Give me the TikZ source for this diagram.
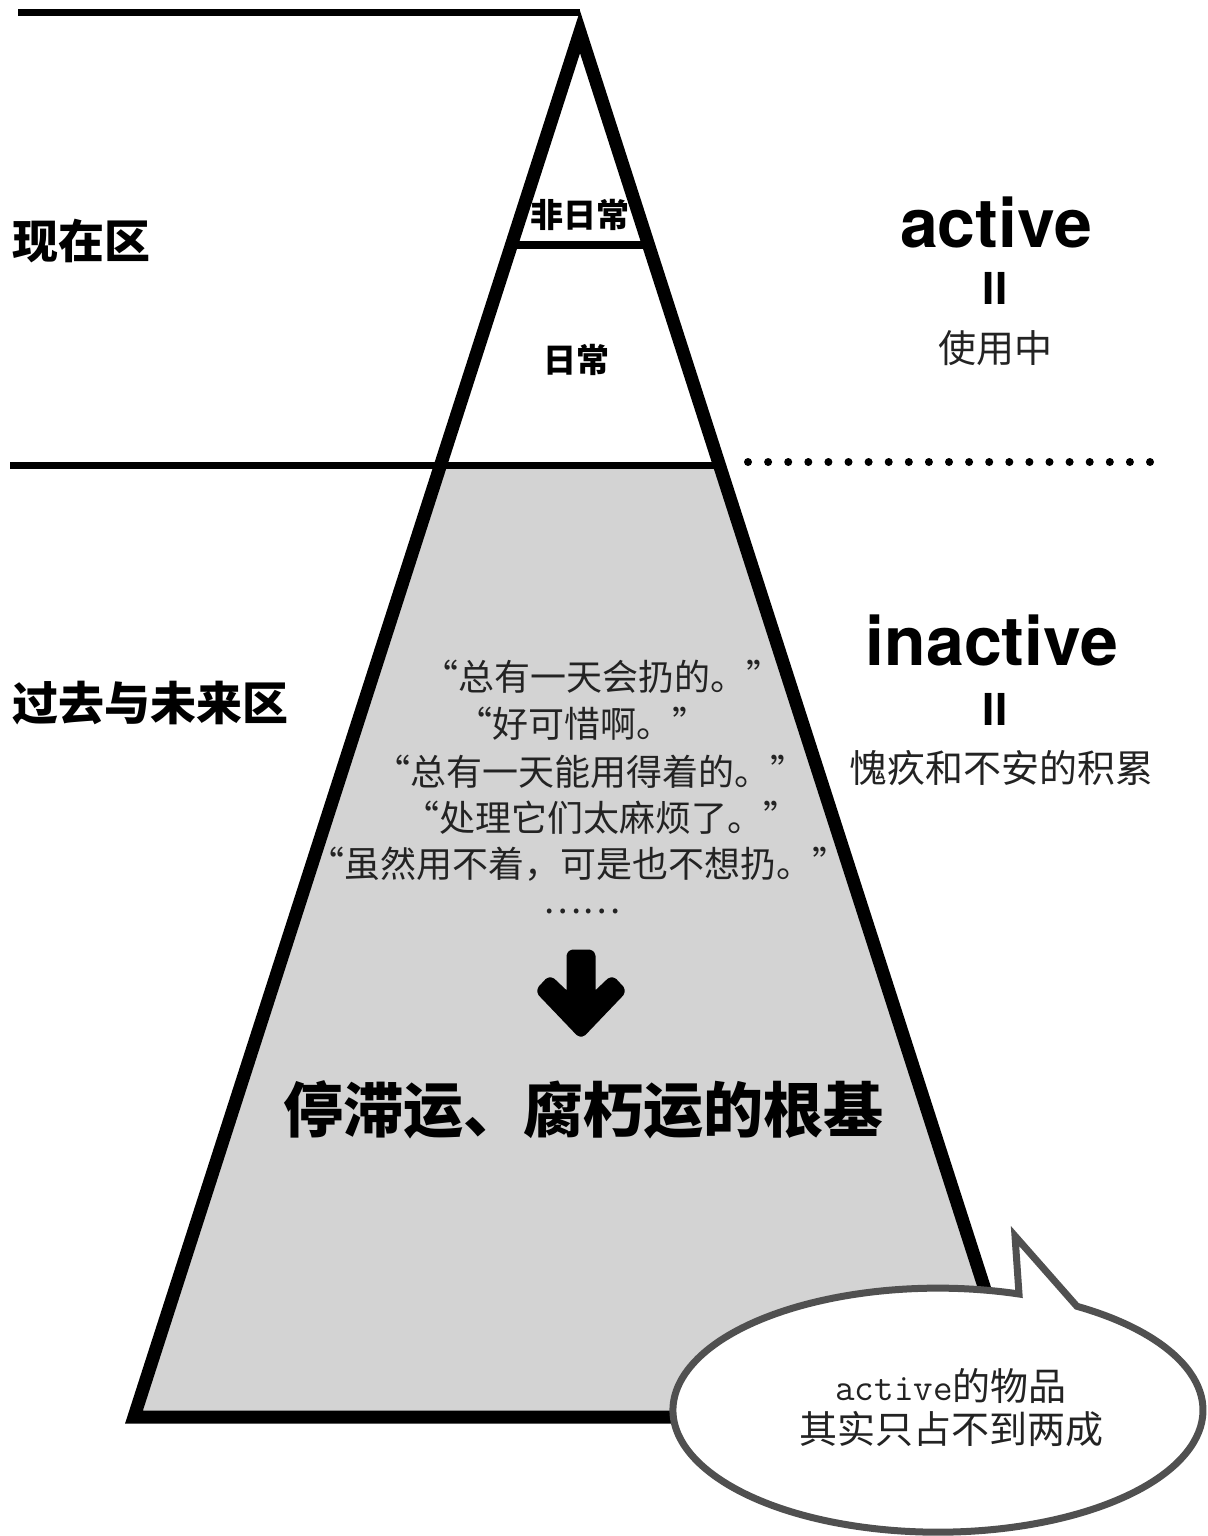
\documentclass[tikz,border=0pt]{standalone}
\usepackage{fontspec}
\newfontfamily\cjk{Noto Sans CJK SC}
\newfontfamily\cjkq{Noto Sans CJK SC}[RawFeature={+fwid}]
\newfontfamily\hv{TeX Gyre Heros}
\definecolor{fillgray}{RGB}{211,211,211}
\definecolor{bubbleline}{RGB}{80,80,80}
\definecolor{softblack}{RGB}{35,35,35}
\tikzset{
  txt/.style={inner sep=0pt, outer sep=0pt},
  zonelbl/.style={txt, anchor=west, font=\cjk\bfseries\fontsize{23}{26}\selectfont},
  layerlbl/.style={txt, font=\cjk\bfseries\fontsize{16.5}{19}\selectfont},
  bigword/.style={txt, anchor=base, font=\hv\bfseries\fontsize{34}{38}\selectfont},
  eqbars/.style={txt, font=\hv\bfseries\fontsize{22}{24}\selectfont},
  cjkreg/.style={txt, text=softblack, font=\cjk\fontsize{19}{22}\selectfont},
  quoteline/.style={txt, text=softblack, font=\cjkq\fontsize{18}{20}\selectfont},
  headline/.style={txt, font=\cjk\bfseries\fontsize{30}{34}\selectfont},
  bubble/.style={draw=bubbleline, fill=white, line width=3.5pt, line join=miter},
  thickedge/.style={line width=6.5pt, line join=miter, miter limit=10},
  guide/.style={line width=3.5pt},
}
\begin{document}
\begin{tikzpicture}[x=0.5pt,y=-0.5pt]
\useasboundingbox[fill=white] (0,0) rectangle (1207,1536);
% pyramid corners
\coordinate (apex) at (580,32);
\coordinate (bl) at (134,1417);
\coordinate (br) at (1026,1417);
\coordinate (ml) at (440.6,465);
\coordinate (mr) at (720,465);
\coordinate (hl) at (511,245);
\coordinate (hr) at (649,245);
% gray lower zone
\fill[fillgray] (ml) -- (mr) -- (br) -- (bl) -- cycle;
% guide lines
\coordinate (topstart) at (18,13);
\coordinate (topend) at (580,13);
\draw[guide] (topstart) -- (topend);
\coordinate (midstart) at (10,465);
\draw[guide] (midstart) -- (mr);
\draw[line width=4pt] (hl) -- (hr);
% pyramid outline
\draw[thickedge] (apex) -- (br) -- (bl) -- cycle;
% dotted separator
\foreach \i in {0,...,20} \fill (748+\i*20.1,462) circle[radius=2pt];
% zone labels
\node[zonelbl] (nowzone) at (12,241) {现在区};
\node[zonelbl] (pastzone) at (12,703) {过去与未来区};
% layer labels
\node[layerlbl] (feirichang) at (580,215) {非日常};
\node[layerlbl] (richang) at (576,360) {日常};
% right side labels
\node[bigword] (active) at (996,247) {active};
\node[eqbars] (eqa) at (995,288) {II};
\node[cjkreg] (inuse) at (995,348) {使用中};
\node[bigword] (inactive) at (992,665) {inactive};
\node[eqbars] (eqb) at (995,709) {II};
\node[cjkreg] (guilt) at (1001,768) {愧疚和不安的积累};
% quotes
\node[quoteline] (q1) at (602,677) {“总有一天会扔的。”};
\node[quoteline] (q2) at (582,724) {“好可惜啊。”};
\node[quoteline] (q3) at (590,772) {“总有一天能用得着的。”};
\node[quoteline] (q4) at (601,818) {“处理它们太麻烦了。”};
\node[quoteline] (q5) at (578,864) {“虽然用不着，可是也不想扔。”};
\node[quoteline] (q6) at (582,911) {……};
% down arrow
\filldraw[line width=2.5pt, line join=round, rounded corners=2pt]
  (569,952) -- (593,952) -- (593,996) -- (612,978) -- (624,991) -- (581,1036)
  -- (538,991) -- (550,978) -- (569,996) -- cycle;
% headline
\node[headline] (root) at (583,1110) {停滞运、腐朽运的根基};
% speech bubble
\coordinate (tailL) at (1019,1294);
\coordinate (tip) at (1015,1236);
\draw[bubble] (tailL) arc[start angle=72.2, end angle=418.4, x radius=132.5pt, y radius=61pt] -- (tip) -- cycle;
\node[txt, align=center, text=softblack, font=\cjk\fontsize{19}{21.5}\selectfont] (note) at (951,1408)
  {{\ttfamily active}的物品\\其实只占不到两成};
\end{tikzpicture}
\end{document}
